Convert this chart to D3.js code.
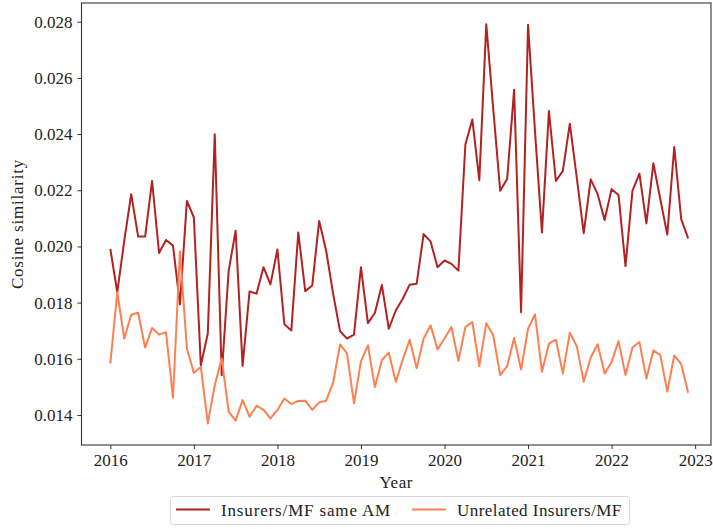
<!DOCTYPE html>
<html>
<head>
<meta charset="utf-8">
<script src="https://cdn.jsdelivr.net/npm/d3@7"></script>
<style>
  body { margin: 0; background: #fff; }
  svg text { font-family: "Liberation Serif", "Times New Roman", serif; }
</style>
</head>
<body>
<div id="graph1"></div>
<script>
let width = 713;
let height = 529;

// monthly, Jan 2016 .. Dec 2022
let startYear = 2016;
let sameAM = [
  0.01991, 0.01837, 0.0202, 0.02186, 0.02035, 0.02035, 0.02233, 0.01977, 0.02023, 0.02003, 0.01794, 0.02162,
  0.02103, 0.01577, 0.0169, 0.02399, 0.01542, 0.01914, 0.02056, 0.01575, 0.0184, 0.01832, 0.01926, 0.01865,
  0.01989, 0.01723, 0.01701, 0.0205, 0.01841, 0.01861, 0.02091, 0.01985, 0.01832, 0.01698, 0.01672, 0.01686,
  0.01926, 0.01727, 0.01763, 0.01863, 0.01707, 0.01772, 0.01814, 0.01864, 0.01867, 0.02044, 0.02018, 0.01926,
  0.0195, 0.01938, 0.01914, 0.02363, 0.02452, 0.02236, 0.02791, 0.0249, 0.02198, 0.0224, 0.02558, 0.01766,
  0.02789, 0.0241, 0.0205, 0.02482, 0.02233, 0.02269, 0.02437, 0.02245, 0.02047, 0.02239, 0.02186, 0.02094,
  0.02204, 0.02183, 0.0193, 0.02199, 0.02259, 0.02082, 0.02296, 0.02168, 0.02042, 0.02354, 0.02097, 0.02029
];
let unrelated = [
  0.01583, 0.01837, 0.01672, 0.01757, 0.01764, 0.0164, 0.0171, 0.01686, 0.01695, 0.01461, 0.01983, 0.01637,
  0.0155, 0.01571, 0.0137, 0.01506, 0.01601, 0.01412, 0.0138, 0.01453, 0.01394, 0.01433, 0.01418, 0.01388,
  0.01418, 0.01459, 0.01439, 0.0145, 0.01451, 0.01418, 0.01445, 0.01451, 0.01515, 0.01651, 0.01619, 0.01441,
  0.01591, 0.01648, 0.015, 0.01595, 0.01622, 0.01518, 0.01597, 0.01668, 0.01566, 0.01672, 0.01719, 0.01633,
  0.01672, 0.01713, 0.01593, 0.01713, 0.01731, 0.01574, 0.01727, 0.01684, 0.01542, 0.01574, 0.01674, 0.01562,
  0.01707, 0.01758, 0.01554, 0.01654, 0.01668, 0.01548, 0.01693, 0.01645, 0.01518, 0.01605, 0.01652, 0.01548,
  0.01589, 0.01663, 0.01542, 0.0164, 0.0166, 0.0153, 0.0163, 0.01613, 0.01483, 0.01612, 0.01581, 0.01479
];
let xTicks = [2016, 2017, 2018, 2019, 2020, 2021, 2022, 2023];
let yTicks = [0.014, 0.016, 0.018, 0.020, 0.022, 0.024, 0.026, 0.028];
let seriesNames = ["Insurers/MF same AM", "Unrelated Insurers/MF"];
let colors = ["#b22222", "#ff7f50"];

let plotLeft = 81.5, plotTop = 3, plotRight = 711, plotBottom = 445;
let serif = '"Liberation Serif", "Times New Roman", serif';

let svg = d3.select('#graph1')
    .append('svg')
        .attr('width', width)
        .attr('height', height);

let x = d3.scaleLinear()
    .domain([2015.655, 2023.19])
    .range([plotLeft, plotRight]);
let y = d3.scaleLinear()
    .domain([0.012932, 0.028666])
    .range([plotBottom, plotTop]);

// lines
let line = d3.line()
    .x((d, i) => x(startYear + i / 12))
    .y(d => y(d));

[sameAM, unrelated].forEach(function(s, k) {
    svg.append('path')
        .attr('d', line(s))
        .style('fill', 'none')
        .style('stroke-width', 2)
        .style('stroke-linejoin', 'round')
        .attr('stroke', colors[k]);
});

// frame
svg.append('rect')
    .attr('x', plotLeft).attr('y', plotTop)
    .attr('width', plotRight - plotLeft).attr('height', plotBottom - plotTop)
    .style('fill', 'none')
    .style('stroke', '#333')
    .style('stroke-width', 1.1);

let xAxis = d3.axisBottom(x)
    .tickValues(xTicks)
    .tickSize(4)
    .tickSizeOuter(0)
    .tickPadding(5)
    .tickFormat(d3.format('d'));
let gx = svg.append('g')
    .attr('transform', 'translate(0,' + plotBottom + ')')
    .call(xAxis);

let yAxis = d3.axisLeft(y)
    .tickValues(yTicks)
    .tickSize(4)
    .tickSizeOuter(0)
    .tickPadding(5)
    .tickFormat(d3.format('.3f'));
let gy = svg.append('g')
    .attr('transform', 'translate(' + plotLeft + ',0)')
    .call(yAxis);

[gx, gy].forEach(function(g) {
    g.attr('font-family', serif).attr('font-size', 17);
    g.select('.domain').remove();
    g.selectAll('line').attr('stroke', '#333');
    g.selectAll('text').attr('fill', '#222');
});

svg.append('text')
    .attr('x', (plotLeft + plotRight) / 2)
    .attr('y', 488)
    .attr('text-anchor', 'middle')
    .attr('font-family', serif)
    .attr('font-size', 17)
    .attr('letter-spacing', 0.6)
    .attr('fill', '#222')
    .text('Year');

svg.append('text')
    .attr('transform', 'translate(23,' + (plotTop + plotBottom) / 2 + ') rotate(-90)')
    .attr('text-anchor', 'middle')
    .attr('font-family', serif)
    .attr('font-size', 17)
    .attr('letter-spacing', 0.8)
    .attr('fill', '#222')
    .text('Cosine similarity');

// legend
let legend = svg.append('g');
legend.append('rect')
    .attr('x', 170.5).attr('y', 496.5)
    .attr('width', 459).attr('height', 28)
    .attr('rx', 3)
    .style('fill', '#fff')
    .style('stroke', '#d6d6d6');

let legendX = [176, 412];
let legendSpacing = [0.85, 0.45];
seriesNames.forEach(function(name, k) {
    legend.append('line')
        .attr('x1', legendX[k]).attr('x2', legendX[k] + 34)
        .attr('y1', 509.5).attr('y2', 509.5)
        .attr('stroke', colors[k])
        .style('stroke-width', 2);
    legend.append('text')
        .attr('x', legendX[k] + 45)
        .attr('y', 515.5)
        .attr('font-family', serif)
        .attr('font-size', 17)
        .attr('letter-spacing', legendSpacing[k])
        .attr('fill', '#222')
        .text(name);
});
</script>
</body>
</html>
